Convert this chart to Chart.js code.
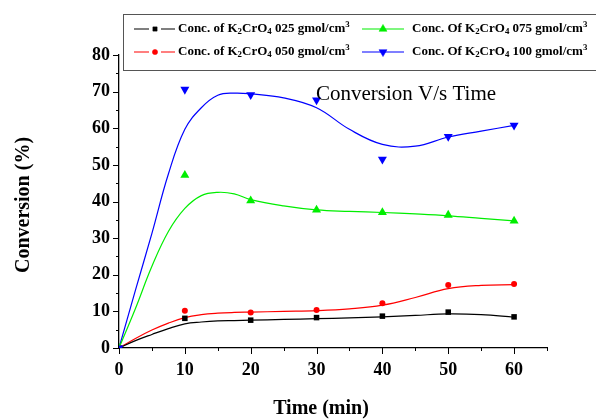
<!DOCTYPE html>
<html><head><meta charset="utf-8">
<script src="https://cdn.jsdelivr.net/npm/chart.js@4/dist/chart.umd.min.js"></script>
<style>html,body{margin:0;padding:0;background:#fff;}#wrap{width:596px;height:419px;position:relative;}</style>
</head><body><div id="wrap"><canvas id="c" width="596" height="419"></canvas></div>
<script>
// ---- data ----
const timeMin = [0, 10, 20, 30, 40, 50, 60];
const conc025 = [0, 8.1, 7.6, 8.3, 8.7, 9.8, 8.5];
const conc050 = [0, 10.2, 9.7, 10.4, 12.2, 17.2, 17.5];
const conc075 = [0, 47.2, 40.2, 37.7, 37.0, 36.3, 34.7];
const conc100 = [0, 70.6, 69.1, 67.7, 51.5, 57.7, 60.8];

// smoothed fit curves as drawn in the reference
const fitTime = [0, 2.5, 5, 7.5, 10, 12.5, 15, 17.5, 20, 25, 30, 35, 40, 45, 50, 55, 60];
const fit025 = [0, 2.0, 3.7, 5.3, 6.6, 7.1, 7.4, 7.5, 7.6, 7.8, 8.0, 8.2, 8.5, 8.9, 9.3, 9.1, 8.4];
const fit050 = [0, 2.6, 4.9, 6.8, 8.3, 9.1, 9.5, 9.7, 9.8, 10.0, 10.2, 10.7, 11.7, 13.8, 16.2, 17.1, 17.3];
const fit075 = [0, 10.8, 22.3, 31.8, 38.1, 41.6, 42.5, 42.1, 40.5, 38.8, 37.7, 37.3, 37.0, 36.6, 36.1, 35.4, 34.7];
const fit100 = [0, 15.8, 31.3, 47.5, 59.7, 65.6, 69.0, 69.6, 69.4, 68.3, 65.6, 59.7, 55.6, 55.1, 57.6, 59.2, 60.8];

const seriesNames = [
  "Conc. of K_2CrO_4 025 gmol/cm^3",
  "Conc. of K_2CrO_4 050 gmol/cm^3",
  "Conc. Of K_2CrO_4 075 gmol/cm^3",
  "Conc. Of K_2CrO_4 100 gmol/cm^3"
];
const xTickLabels = [0, 10, 20, 30, 40, 50, 60];
const yTickLabels = [0, 10, 20, 30, 40, 50, 60, 70, 80];
const chartTitle = "Conversion V/s Time";
const xTitle = "Time (min)";
const yTitle = "Conversion (%)";

// ---- styles ----
const colors = ['#000000', '#ff0000', '#00ee00', '#0000ff'];
const markerStyles = [
  {pointStyle: 'rect', radius: 3.9, rotation: 0},
  {pointStyle: 'circle', radius: 3.0, rotation: 0},
  {pointStyle: 'triangle', radius: 5.2, rotation: 0},
  {pointStyle: 'triangle', radius: 5.2, rotation: 180}
];
const legendMarkers = [
  {pointStyle: 'rect', radius: 3.0, rotation: 0},
  {pointStyle: 'circle', radius: 2.6, rotation: 0},
  {pointStyle: 'triangle', radius: 4.6, rotation: 0},
  {pointStyle: 'triangle', radius: 4.6, rotation: 180}
];
const SERIF = "'Liberation Serif','Times New Roman',serif";

const pts = (xs, ys) => xs.map((x, i) => ({x: x, y: ys[i]}));
const markerSets = [conc025, conc050, conc075, conc100];
const fitSets = [fit025, fit050, fit075, fit100];

const datasets = [];
markerSets.forEach((vals, i) => {
  datasets.push({
    type: 'scatter', label: seriesNames[i], data: pts(timeMin, vals),
    showLine: false, pointStyle: markerStyles[i].pointStyle, pointRadius: markerStyles[i].radius,
    pointRotation: markerStyles[i].rotation, pointBackgroundColor: colors[i], pointBorderColor: colors[i],
    pointBorderWidth: 0, order: 4 - i
  });
});
fitSets.forEach((vals, i) => {
  datasets.push({
    type: 'line', label: seriesNames[i] + ' fit', data: pts(fitTime, vals),
    borderColor: colors[i], borderWidth: 1.2, pointRadius: 0, fill: false,
    tension: 0.4, order: 10 + i
  });
});

function drawRich(ctx, text, x, y, size) {
  const parts = text.split(/(_\d|\^\d)/).filter(s => s.length);
  let cx = x;
  parts.forEach(p => {
    let s = p, fs = size, dy = 0;
    if (p[0] === '_') { s = p.slice(1); fs = size * 0.68; dy = 2.5; }
    else if (p[0] === '^') { s = p.slice(1); fs = size * 0.68; dy = -4.5; }
    ctx.font = 'bold ' + fs + 'px ' + SERIF;
    ctx.fillText(s, cx, y + dy);
    cx += ctx.measureText(s).width;
  });
}

const decor = {
  id: 'decor',
  afterDraw(chart) {
    const ctx = chart.ctx, xs = chart.scales.x, ys = chart.scales.y, ca = chart.chartArea;
    ctx.save();
    ctx.strokeStyle = '#000'; ctx.lineWidth = 1;
    xs.ticks.forEach(t => {
      const px = Math.round(xs.getPixelForValue(t.value)) + 0.5;
      const major = t.value % 10 === 0;
      ctx.beginPath(); ctx.moveTo(px, ca.bottom); ctx.lineTo(px, ca.bottom + (major ? 6 : 3)); ctx.stroke();
    });
    ys.ticks.forEach(t => {
      const py = Math.round(ys.getPixelForValue(t.value)) + 0.5;
      const major = t.value % 10 === 0;
      ctx.beginPath(); ctx.moveTo(ca.left, py); ctx.lineTo(ca.left - (major ? 6 : 3), py); ctx.stroke();
    });
    // axis titles
    ctx.fillStyle = '#000';
    ctx.font = 'bold 20px ' + SERIF;
    ctx.textAlign = 'center'; ctx.textBaseline = 'alphabetic';
    ctx.fillText(xTitle, 321, 414);
    ctx.save(); ctx.translate(29, 205); ctx.rotate(-Math.PI / 2);
    ctx.fillText(yTitle, 0, 0); ctx.restore();
    // chart title
    ctx.font = '21px ' + SERIF; ctx.textAlign = 'left';
    ctx.fillText(chartTitle, 316, 100);
    // legend box
    ctx.fillStyle = '#fff';
    ctx.fillRect(123.5, 14.5, 480, 56);
    ctx.strokeStyle = '#555'; ctx.lineWidth = 1;
    ctx.strokeRect(123.5, 14.5, 480, 56);
    const cols = [{lx0: 134, lx1: 175, mx: 155, tx: 178, gap: true}, {lx0: 362, lx1: 404, mx: 383, tx: 412, gap: false}];
    const rows = [29, 52];
    seriesNames.forEach((name, i) => {
      const c = cols[Math.floor(i / 2)], ry = rows[i % 2];
      ctx.strokeStyle = colors[i]; ctx.lineWidth = 1.2;
      ctx.beginPath();
      if (c.gap) {
        ctx.moveTo(c.lx0, ry); ctx.lineTo(c.mx - 6, ry);
        ctx.moveTo(c.mx + 6, ry); ctx.lineTo(c.lx1, ry);
      } else { ctx.moveTo(c.lx0, ry); ctx.lineTo(c.lx1, ry); }
      ctx.stroke();
      ctx.fillStyle = colors[i]; ctx.strokeStyle = colors[i]; ctx.lineWidth = 0.5;
      Chart.helpers.drawPoint(ctx, {pointStyle: legendMarkers[i].pointStyle, radius: legendMarkers[i].radius,
        rotation: legendMarkers[i].rotation, borderWidth: 0.5}, c.mx, ry);
      ctx.fillStyle = '#000'; ctx.textAlign = 'left'; ctx.textBaseline = 'middle';
      drawRich(ctx, name, c.tx, ry, 13);
    });
    ctx.restore();
  }
};

new Chart(document.getElementById('c'), {
  data: {datasets: datasets},
  options: {
    responsive: false, animation: false, devicePixelRatio: 1,
    layout: {padding: {left: 0, right: 49, top: 55, bottom: 0}},
    plugins: {legend: {display: false}, title: {display: false}, tooltip: {enabled: false}},
    scales: {
      x: {
        type: 'linear', min: 0, max: 65,
        grid: {drawOnChartArea: false, drawTicks: false},
        border: {display: true, color: '#000', width: 1.3},
        ticks: {stepSize: 5, autoSkip: false, maxRotation: 0, padding: 12, color: '#000',
          font: {family: SERIF, size: 18, weight: 'bold'},
          callback: v => xTickLabels.includes(v) ? String(v) : ''},
        afterFit: s => { s.height = 71; }
      },
      y: {
        type: 'linear', min: 0, max: 80,
        grid: {drawOnChartArea: false, drawTicks: false},
        border: {display: true, color: '#000', width: 1.3},
        ticks: {stepSize: 5, autoSkip: false, padding: 9, color: '#000',
          font: {family: SERIF, size: 18, weight: 'bold'},
          callback: v => yTickLabels.includes(v) ? String(v) : ''},
        afterFit: s => { s.width = 119; }
      }
    }
  },
  plugins: [decor]
});
</script></body></html>
